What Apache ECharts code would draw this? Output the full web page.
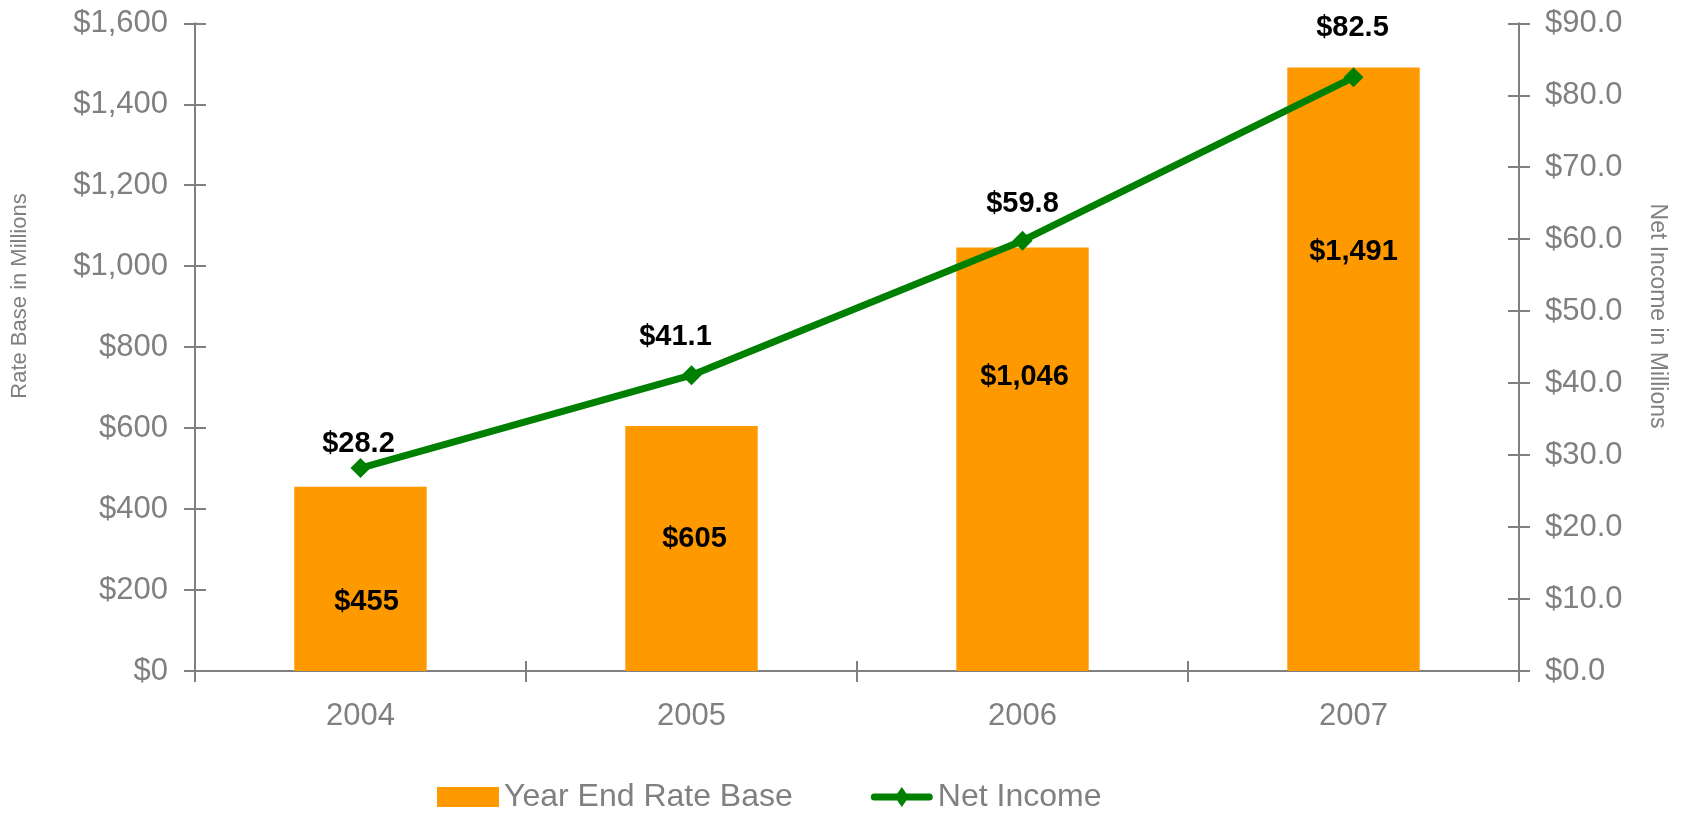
<!DOCTYPE html>
<html>
<head>
<meta charset="utf-8">
<script src="https://cdn.jsdelivr.net/npm/echarts@6/dist/echarts.min.js"></script>
<style>
html,body{margin:0;padding:0;background:#fff;}
#chart{width:1681px;height:814px;}
</style>
</head>
<body>
<div id="chart"></div>
<script>
// ---- data ----
const categories = ['2004', '2005', '2006', '2007'];
const rateBase = [455, 605, 1046, 1491];
const netIncome = [28.2, 41.1, 59.8, 82.5];
const leftAxis = { min: 0, max: 1600, interval: 200 };
const rightAxis = { min: 0, max: 90, interval: 10 };
const seriesNames = ['Year End Rate Base', 'Net Income'];
const axisTitles = ['Rate Base in Millions', 'Net Income in Millions'];

// ---- label placement tweaks (styling) ----
const barLabelShift = [[6, 23], [3, -10], [2, -82], [0, -117]];
const lineLabelShift = [[-2, -24], [-16, -38], [0, -37], [-1, -49]];

const GRAY = '#808080';
const FONT = 'Liberation Sans, Arial, sans-serif';
const LINE_ICON = 'path://M31,0L38,10L31,20L24,10Z M3.5,6.5H58.5A3.5,3.5,0,0,1,58.5,13.5H3.5A3.5,3.5,0,0,1,3.5,6.5Z';

const fmtMoney = v => '$' + Number(v).toLocaleString('en-US');
const fmtMoney1 = v => '$' + Number(v).toFixed(1);

const chart = echarts.init(document.getElementById('chart'));

const axisLineStyle = { color: GRAY, width: 2 };

const option = {
  animation: false,
  textStyle: { fontFamily: FONT },
  grid: { left: 195, right: 162, top: 23.3, bottom: 143, containLabel: false },
  legend: {
    left: 432,
    top: 776,
    itemWidth: 62,
    itemHeight: 20,
    itemGap: 78,
    textStyle: { fontFamily: FONT, fontSize: 32, color: GRAY, padding: [0, 0, 0, 0] },
    data: [
      { name: seriesNames[0], icon: 'rect' },
      { name: seriesNames[1], icon: LINE_ICON, itemStyle: { color: '#008000', borderWidth: 0 } }
    ]
  },
  graphic: [
    { type: 'text', x: 20, y: 296, rotation: Math.PI / 2,
      style: { text: axisTitles[0], fill: GRAY, font: '22px ' + FONT, textAlign: 'center', textVerticalAlign: 'middle' } },
    { type: 'text', x: 1657, y: 316, rotation: -Math.PI / 2,
      style: { text: axisTitles[1], fill: GRAY, font: '23px ' + FONT, textAlign: 'center', textVerticalAlign: 'middle' } }
  ],
  xAxis: [
    {
      type: 'category', data: categories, position: 'bottom',
      axisLine: { lineStyle: axisLineStyle },
      axisTick: { show: true, alignWithLabel: false, length: 11, lineStyle: axisLineStyle },
      axisLabel: { color: GRAY, fontSize: 31, margin: 30, fontFamily: FONT }
    },
    {
      type: 'category', data: categories, position: 'bottom',
      axisLine: { show: false },
      axisTick: { show: true, inside: true, alignWithLabel: false, length: 10, lineStyle: axisLineStyle },
      axisLabel: { show: false }
    }
  ],
  yAxis: [
    {
      type: 'value', position: 'left', min: leftAxis.min, max: leftAxis.max, interval: leftAxis.interval,
      axisLine: { show: true, lineStyle: axisLineStyle },
      axisTick: { show: true, length: 11, lineStyle: axisLineStyle },
      splitLine: { show: false },
      axisLabel: { color: GRAY, fontSize: 31, margin: 27, formatter: fmtMoney, fontFamily: FONT }
    },
    {
      type: 'value', position: 'right', min: rightAxis.min, max: rightAxis.max, interval: rightAxis.interval,
      axisLine: { show: true, lineStyle: axisLineStyle },
      axisTick: { show: true, length: 11, lineStyle: axisLineStyle },
      splitLine: { show: false },
      axisLabel: { color: GRAY, fontSize: 31, margin: 26, formatter: fmtMoney1, fontFamily: FONT }
    },
    {
      type: 'value', position: 'left', min: leftAxis.min, max: leftAxis.max, interval: leftAxis.interval,
      axisLine: { show: false },
      axisTick: { show: true, inside: true, length: 11, lineStyle: axisLineStyle },
      splitLine: { show: false }, axisLabel: { show: false }
    },
    {
      type: 'value', position: 'right', min: rightAxis.min, max: rightAxis.max, interval: rightAxis.interval,
      axisLine: { show: false },
      axisTick: { show: true, inside: true, length: 11, lineStyle: axisLineStyle },
      splitLine: { show: false }, axisLabel: { show: false }
    }
  ],
  series: [
    {
      name: seriesNames[0], type: 'bar', xAxisIndex: 0, yAxisIndex: 0,
      barWidth: '40%',
      itemStyle: { color: '#FF9900' },
      data: rateBase.map((v, i) => ({
        value: v,
        label: { offset: barLabelShift[i] }
      })),
      label: {
        show: true, position: 'inside', color: '#000', fontWeight: 'bold', fontSize: 29,
        fontFamily: FONT, formatter: p => fmtMoney(p.value)
      }
    },
    {
      name: seriesNames[1], type: 'line', xAxisIndex: 0, yAxisIndex: 1,
      symbol: 'diamond', symbolSize: 20,
      lineStyle: { color: '#008000', width: 7 },
      itemStyle: { color: '#008000' },
      data: netIncome.map((v, i) => ({
        value: v,
        label: { offset: lineLabelShift[i] }
      })),
      label: {
        show: true, position: 'inside', color: '#000', fontWeight: 'bold', fontSize: 29,
        fontFamily: FONT, formatter: p => fmtMoney1(p.value)
      },
      z: 5
    }
  ]
};
chart.setOption(option);
</script>
</body>
</html>
